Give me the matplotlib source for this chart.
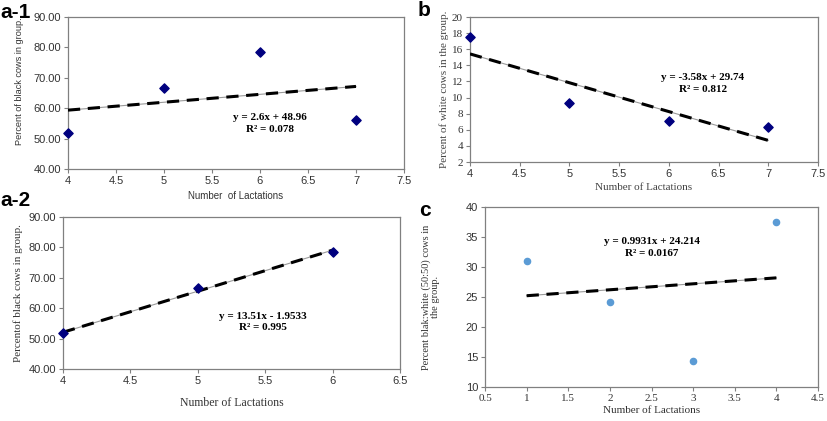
import numpy as np
import matplotlib
matplotlib.use("Agg")
import matplotlib.pyplot as plt

# panel a-1
a1_x = [4, 5, 6, 7]
a1_y = [51.7, 66.7, 78.5, 56.2]
a1_fit = (2.6, 48.96)
# panel b
b_x = [4, 5, 6, 7]
b_y = [17.5, 9.3, 7.1, 6.3]
b_fit = (-3.58, 29.74)
# panel a-2
a2_x = [4, 5, 6]
a2_y = [51.7, 66.7, 78.5]
a2_fit = (13.51, -1.9533)
# panel c
c_x = [1, 2, 3, 4]
c_y = [31.0, 24.1, 14.3, 37.5]
c_fit = (0.9931, 24.214)

SANS = "Liberation Sans"
SERIF = "Liberation Serif"


def trend(ax, xs, fit):
    xx = np.array([min(xs), max(xs)])
    yy = fit[0] * xx + fit[1]
    ax.plot(xx, yy, color="#9a9a9a", lw=0.8, zorder=2)
    ax.plot(xx, yy, color="black", lw=2.2, ls=(0, (4, 2.5)), zorder=3)


def style(ax, xfont, yfont, size=8):
    for s in ax.spines.values():
        s.set_color("#808080")
        s.set_linewidth(0.9)
    ax.tick_params(length=3, width=0.8, color="#808080", pad=2)
    for t in ax.get_xticklabels():
        t.set_fontfamily(xfont)
        t.set_fontsize(size)
        t.set_color("#333333")
    for t in ax.get_yticklabels():
        t.set_fontfamily(yfont)
        t.set_fontsize(size)
        t.set_color("#333333")


fig = plt.figure(figsize=(8.27, 4.21), dpi=100)

eq_kw = dict(ha="center", va="center", fontfamily=SERIF, fontweight="bold", fontsize=8)

# a-1
ax = fig.add_axes([0.0822, 0.5986, 0.4063, 0.361])
trend(ax, a1_x, a1_fit)
ax.scatter(a1_x, a1_y, marker="D", s=22, color="#00007f", zorder=4, clip_on=False)
ax.set_xlim(4, 7.5)
ax.set_ylim(40, 90)
ax.set_xticks(np.arange(4, 7.6, 0.5))
ax.set_xticklabels(["4", "4.5", "5", "5.5", "6", "6.5", "7", "7.5"])
ax.set_yticks(np.arange(40, 91, 10))
ax.set_yticklabels(["%.2f" % v for v in np.arange(40, 91, 10)])
ax.set_xlabel("Number  of Lactations", fontfamily=SANS, fontsize=7, color="#333333", labelpad=4)
ax.set_ylabel("Percent of black cows in group.", fontfamily=SANS, fontsize=6.6, color="#333333")
ax.yaxis.set_label_coords(-0.13, 0.58)
ax.text(6.1, 56.8, "y = 2.6x + 48.96", **eq_kw)
ax.text(6.1, 52.9, "R² = 0.078", **eq_kw)
style(ax, SANS, SANS)

# b
ax = fig.add_axes([0.5683, 0.6152, 0.4208, 0.3444])
trend(ax, b_x, b_fit)
ax.scatter(b_x, b_y, marker="D", s=22, color="#00007f", zorder=4, clip_on=False)
ax.set_xlim(4, 7.5)
ax.set_ylim(2, 20)
ax.set_xticks(np.arange(4, 7.6, 0.5))
ax.set_xticklabels(["4", "4.5", "5", "5.5", "6", "6.5", "7", "7.5"])
ax.set_yticks(np.arange(2, 21, 2))
ax.set_xlabel("Number of Lactations", fontfamily=SERIF, fontsize=8, color="#444444", labelpad=3)
ax.set_ylabel("Percent of white cows in the group.", fontfamily=SERIF, fontsize=8, color="#444444", labelpad=2)
ax.text(6.34, 12.55, "y = -3.58x + 29.74", **eq_kw)
ax.text(6.34, 11.06, "R² = 0.812", **eq_kw)
style(ax, SANS, SERIF)

# a-2
ax = fig.add_axes([0.0762, 0.1235, 0.4075, 0.361])
trend(ax, a2_x, a2_fit)
ax.scatter(a2_x, a2_y, marker="D", s=22, color="#00007f", zorder=4, clip_on=False)
ax.set_xlim(4, 6.5)
ax.set_ylim(40, 90)
ax.set_xticks(np.arange(4, 6.6, 0.5))
ax.set_xticklabels(["4", "4.5", "5", "5.5", "6", "6.5"])
ax.set_yticks(np.arange(40, 91, 10))
ax.set_yticklabels(["%.2f" % v for v in np.arange(40, 91, 10)])
ax.set_xlabel("Number of Lactations", fontfamily=SERIF, fontsize=8.5, color="#333333", labelpad=8)
ax.set_ylabel("Percentof black cows in group.", fontfamily=SERIF, fontsize=8, color="#333333", labelpad=4)
ax.text(5.48, 57.4, "y = 13.51x - 1.9533", **eq_kw)
ax.text(5.48, 53.5, "R² = 0.995", **eq_kw)
style(ax, SANS, SANS)

# c
ax = fig.add_axes([0.5865, 0.0808, 0.4026, 0.4276])
trend(ax, c_x, c_fit)
ax.scatter(c_x, c_y, marker="o", s=20, color="#5b9bd5", zorder=4)
ax.set_xlim(0.5, 4.5)
ax.set_ylim(10, 40)
ax.set_xticks(np.arange(0.5, 4.6, 0.5))
ax.set_xticklabels(["0.5", "1", "1.5", "2", "2.5", "3", "3.5", "4", "4.5"])
ax.set_yticks(np.arange(10, 41, 5))
ax.set_xlabel("Number of Lactations", fontfamily=SERIF, fontsize=8, color="#333333", labelpad=2)
ax.set_ylabel("Percent blak:white (50:50) cows in\nthe group.", fontfamily=SERIF, fontsize=7.5,
              color="#333333", linespacing=1.0)
ax.yaxis.set_label_coords(-0.135, 0.5)
ax.text(2.5, 34.2, "y = 0.9931x + 24.214", **eq_kw)
ax.text(2.5, 32.2, "R² = 0.0167", **eq_kw)
style(ax, SERIF, SANS)

# panel letters
lab_kw = dict(fontfamily=SANS, fontweight="bold", fontsize=15, va="center", ha="left")
fig.text(0.0, 1 - 13 / 421, "a-1", **lab_kw)
fig.text(418 / 827, 1 - 11 / 421, "b", **lab_kw)
fig.text(0.0, 1 - 200 / 421, "a-2", **lab_kw)
fig.text(419 / 827, 1 - 210 / 421, "c", **lab_kw)

fig.savefig("out.png", dpi=100)
